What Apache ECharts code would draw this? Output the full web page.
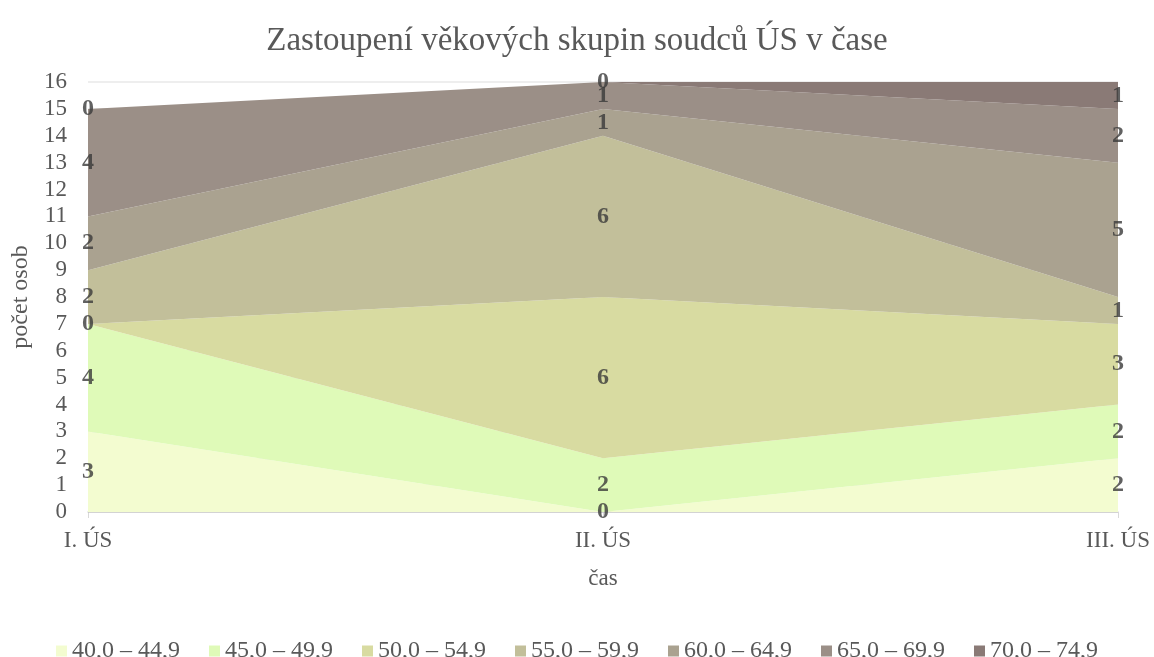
<!DOCTYPE html>
<html>
<head>
<meta charset="utf-8">
<script src="https://cdn.jsdelivr.net/npm/echarts@6/dist/echarts.min.js"></script>
<style>
  html, body { margin: 0; padding: 0; background: #fff; }
  #chart { width: 1154px; height: 657px; }
</style>
</head>
<body>
<div id="chart"></div>
<script>
// data
var categories = ['I. ÚS', 'II. ÚS', 'III. ÚS'];
var groups = ['40,0 – 44,9', '45,0 – 49,9', '50,0 – 54,9', '55,0 – 59,9', '60,0 – 64,9', '65,0 – 69,9', '70,0 – 74,9'];
var g40 = [3, 0, 2];
var g45 = [4, 2, 2];
var g50 = [0, 6, 3];
var g55 = [2, 6, 1];
var g60 = [2, 1, 5];
var g65 = [4, 1, 2];
var g70 = [0, 0, 1];
var values = [g40, g45, g50, g55, g60, g65, g70];
var colors = ['#f3fcd0', '#dffab8', '#d8dba1', '#c2bf9a', '#aaa290', '#9b8f87', '#8a7a76'];

var font = 'Liberation Serif';
var myChart = echarts.init(document.getElementById('chart'));

var series = [];
for (var i = 0; i < groups.length; i++) {
    series.push({
        name: groups[i],
        type: 'line',
        stack: 'total',
        symbol: 'none',
        lineStyle: { width: 0 },
        areaStyle: { color: colors[i], opacity: 1 },
        itemStyle: { color: colors[i] },
        data: values[i]
    });
}

// value labels in the middle of each band
var labelPts = [];
for (var c = 0; c < categories.length; c++) {
    var base = 0;
    for (var k = 0; k < values.length; k++) {
        var v = values[k][c];
        labelPts.push({ value: [c, base + v / 2], num: v });
        base += v;
    }
}
series.push({
    name: 'labels',
    type: 'scatter',
    symbolSize: 0,
    silent: true,
    z: 5,
    label: {
        show: true,
        position: 'inside',
        fontFamily: font,
        fontSize: 24,
        fontWeight: 'bold',
        color: '#3a3a3a',
        formatter: function (p) { return p.data.num; }
    },
    data: labelPts
});

option = {
    animation: false,
    textStyle: { fontFamily: font },
    title: {
        text: 'Zastoupení věkových skupin soudců ÚS v čase',
        left: 'center',
        top: 20,
        textStyle: { fontFamily: font, fontSize: 33, fontWeight: 'normal', color: '#595959' }
    },
    legend: {
        data: groups,
        top: 634,
        left: 'center',
        icon: 'rect',
        itemWidth: 11,
        itemHeight: 11,
        itemGap: 29,
        textStyle: { fontFamily: font, fontSize: 24, color: '#595959' }
    },
    grid: { left: 88, right: 36, top: 82, bottom: 145 },
    xAxis: {
        type: 'category',
        boundaryGap: false,
        data: categories,
        name: 'čas',
        nameLocation: 'middle',
        nameGap: 55,
        nameTextStyle: { fontFamily: font, fontSize: 23, color: '#595959' },
        axisLine: { lineStyle: { color: '#d9d9d9', width: 1.5 } },
        axisTick: { show: true, length: 6, lineStyle: { color: '#d9d9d9' } },
        axisLabel: { margin: 17, fontFamily: font, fontSize: 23, color: '#595959' }
    },
    yAxis: {
        type: 'value',
        min: 0,
        max: 16,
        interval: 1,
        z: 3,
        name: 'počet osob',
        nameLocation: 'middle',
        nameGap: 55,
        nameTextStyle: { fontFamily: font, fontSize: 24, color: '#595959' },
        axisLine: { show: false },
        axisTick: { show: false },
        axisLabel: { margin: 21, fontFamily: font, fontSize: 23, color: '#595959' },
        splitLine: { lineStyle: { color: 'rgba(0,0,0,0.09)', width: 1.5 } }
    },
    series: series
};
myChart.setOption(option);
</script>
</body>
</html>
